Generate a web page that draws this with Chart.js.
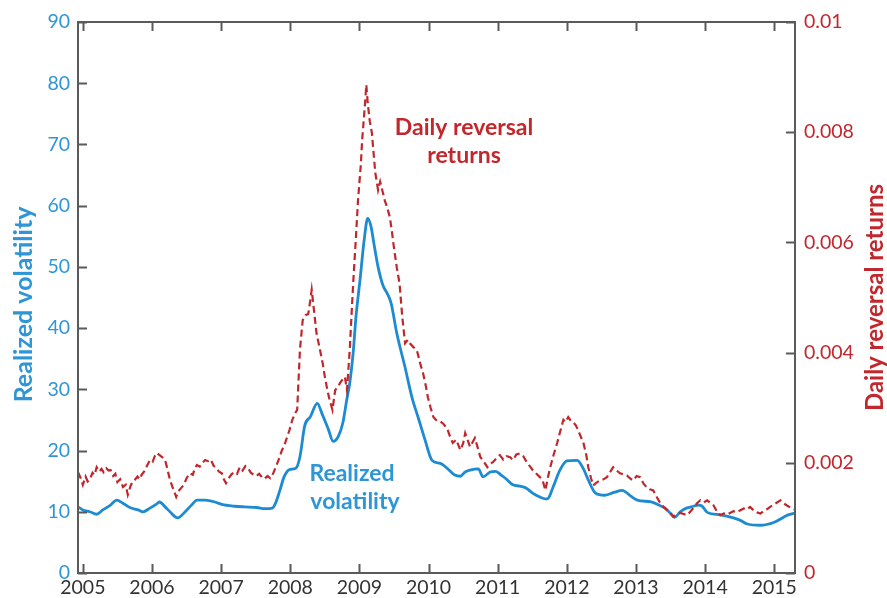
<!DOCTYPE html>
<html>
<head>
<meta charset="utf-8">
<script src="https://cdn.jsdelivr.net/npm/chart.js@4.4.1/dist/chart.umd.min.js"></script>
<style>
  html, body { margin: 0; padding: 0; background: #ffffff; }
  #wrap { width: 887px; height: 598px; }
</style>
</head>
<body>
<div id="wrap"><canvas id="c" width="887" height="598"></canvas></div>
<script>
// Year ticks along the bottom (and mirrored at the top)
const yearTicks = [2005, 2006, 2007, 2008, 2009, 2010, 2011, 2012, 2013, 2014, 2015];
// Left axis ticks (realized volatility)
const volTicks = [0, 10, 20, 30, 40, 50, 60, 70, 80, 90];
// Right axis ticks (daily reversal returns)
const revTicks = [0, 0.002, 0.004, 0.006, 0.008, 0.01];
const revTickLabels = ['0', '0.002', '0.004', '0.006', '0.008', '0.01'];

// Realized volatility: dates (decimal years) and values
const volDates = [
  2004.93, 2005.00, 2005.10, 2005.20, 2005.29, 2005.39, 2005.49, 2005.58, 2005.68, 2005.80,
  2005.87, 2005.97, 2006.07, 2006.11, 2006.19, 2006.26, 2006.37, 2006.48, 2006.58, 2006.65,
  2006.77, 2006.91, 2007.01, 2007.20, 2007.34, 2007.52, 2007.63, 2007.74, 2007.79, 2007.85,
  2007.91, 2007.99, 2008.08, 2008.14, 2008.21, 2008.29, 2008.39, 2008.46, 2008.55, 2008.62,
  2008.69, 2008.76, 2008.82, 2008.86, 2008.91, 2008.95, 2009.01, 2009.07, 2009.12, 2009.17,
  2009.21, 2009.27, 2009.34, 2009.41, 2009.46, 2009.54, 2009.66, 2009.76, 2009.85, 2009.95,
  2010.05, 2010.17, 2010.27, 2010.38, 2010.46, 2010.53, 2010.60, 2010.72, 2010.79, 2010.89,
  2010.97, 2011.05, 2011.12, 2011.22, 2011.32, 2011.41, 2011.51, 2011.61, 2011.69, 2011.73,
  2011.80, 2011.90, 2012.00, 2012.15, 2012.24, 2012.31, 2012.41, 2012.55, 2012.69, 2012.80,
  2012.92, 2013.02, 2013.22, 2013.35, 2013.42, 2013.52, 2013.56, 2013.64, 2013.73, 2013.83,
  2013.90, 2013.95, 2014.03, 2014.22, 2014.41, 2014.51, 2014.61, 2014.80, 2015.00, 2015.20,
  2015.30
];
const volValues = [
  10.8, 10.3, 10.0, 9.6, 10.3, 11.0, 11.9, 11.4, 10.7, 10.3,
  10.0, 10.6, 11.3, 11.6, 10.8, 10.0, 9.0, 10.0, 11.2, 11.9,
  11.9, 11.6, 11.2, 10.9, 10.8, 10.7, 10.5, 10.6, 11.5, 13.5,
  15.7, 16.9, 17.1, 19.0, 24.1, 25.5, 27.7, 26.0, 23.5, 21.5,
  22.2, 24.5, 28.5, 31.0, 36.0, 41.8, 48.0, 54.5, 57.9, 56.5,
  53.8, 50.0, 47.0, 45.5, 44.0, 39.2, 33.6, 28.7, 25.4, 21.7,
  18.4, 17.9, 17.1, 16.0, 15.8, 16.5, 16.8, 17.0, 15.7, 16.5,
  16.6, 16.0, 15.4, 14.4, 14.2, 13.9, 13.0, 12.4, 12.1, 12.2,
  14.0, 16.8, 18.3, 18.4, 17.0, 15.2, 13.1, 12.7, 13.2, 13.5,
  12.6, 11.9, 11.6, 11.0, 10.6, 9.5, 9.1, 10.0, 10.6, 10.9,
  11.1, 11.0, 9.9, 9.5, 9.0, 8.6, 8.0, 7.8, 8.3, 9.5,
  9.8
];

// Daily reversal returns: dates (decimal years) and values in thousandths
const revDates = [
  2004.93, 2004.97, 2005.00, 2005.04, 2005.07, 2005.10, 2005.14, 2005.17, 2005.20, 2005.24,
  2005.27, 2005.30, 2005.34, 2005.37, 2005.40, 2005.44, 2005.47, 2005.50, 2005.54, 2005.58,
  2005.62, 2005.65, 2005.69, 2005.72, 2005.75, 2005.79, 2005.82, 2005.85, 2005.89, 2005.93,
  2005.97, 2006.01, 2006.04, 2006.07, 2006.11, 2006.15, 2006.19, 2006.22, 2006.26, 2006.30,
  2006.35, 2006.38, 2006.42, 2006.46, 2006.50, 2006.55, 2006.59, 2006.62, 2006.65, 2006.69,
  2006.73, 2006.77, 2006.81, 2006.85, 2006.89, 2006.93, 2006.97, 2007.01, 2007.04, 2007.07,
  2007.11, 2007.15, 2007.19, 2007.23, 2007.27, 2007.31, 2007.35, 2007.39, 2007.43, 2007.47,
  2007.51, 2007.55, 2007.59, 2007.63, 2007.67, 2007.71, 2007.75, 2007.79, 2007.83, 2007.88,
  2007.91, 2007.95, 2007.99, 2008.03, 2008.07, 2008.10, 2008.14, 2008.18, 2008.22, 2008.26,
  2008.29, 2008.31, 2008.34, 2008.38, 2008.43, 2008.47, 2008.50, 2008.54, 2008.57, 2008.61,
  2008.65, 2008.69, 2008.72, 2008.76, 2008.79, 2008.82, 2008.86, 2008.91, 2008.95, 2008.98,
  2009.02, 2009.04, 2009.08, 2009.10, 2009.12, 2009.15, 2009.18, 2009.21, 2009.23, 2009.27,
  2009.30, 2009.34, 2009.37, 2009.40, 2009.44, 2009.47, 2009.49, 2009.54, 2009.58, 2009.62,
  2009.66, 2009.70, 2009.73, 2009.78, 2009.83, 2009.88, 2009.92, 2009.96, 2009.99, 2010.03,
  2010.07, 2010.12, 2010.17, 2010.22, 2010.27, 2010.31, 2010.35, 2010.40, 2010.46, 2010.50,
  2010.53, 2010.57, 2010.60, 2010.64, 2010.67, 2010.71, 2010.75, 2010.80, 2010.85, 2010.89,
  2010.93, 2010.98, 2011.03, 2011.08, 2011.13, 2011.18, 2011.22, 2011.27, 2011.32, 2011.37,
  2011.43, 2011.47, 2011.51, 2011.56, 2011.61, 2011.65, 2011.69, 2011.72, 2011.76, 2011.81,
  2011.86, 2011.90, 2011.95, 2011.98, 2012.02, 2012.06, 2012.09, 2012.13, 2012.16, 2012.20,
  2012.24, 2012.28, 2012.31, 2012.35, 2012.38, 2012.43, 2012.48, 2012.53, 2012.58, 2012.62,
  2012.67, 2012.72, 2012.77, 2012.82, 2012.87, 2012.91, 2012.96, 2013.01, 2013.06, 2013.11,
  2013.16, 2013.20, 2013.25, 2013.30, 2013.35, 2013.40, 2013.45, 2013.50, 2013.54, 2013.59,
  2013.64, 2013.69, 2013.74, 2013.79, 2013.83, 2013.88, 2013.93, 2013.98, 2014.03, 2014.08,
  2014.12, 2014.17, 2014.22, 2014.27, 2014.32, 2014.36, 2014.41, 2014.46, 2014.51, 2014.56,
  2014.60, 2014.65, 2014.70, 2014.75, 2014.80, 2014.85, 2014.90, 2014.94, 2014.99, 2015.04,
  2015.09, 2015.14, 2015.19, 2015.23, 2015.27, 2015.30
];
const revPerMille = [
  1.83, 1.72, 1.60, 1.75, 1.66, 1.69, 1.82, 1.78, 1.92, 1.84,
  1.89, 1.83, 1.90, 1.86, 1.87, 1.76, 1.80, 1.65, 1.70, 1.56,
  1.60, 1.42, 1.58, 1.66, 1.69, 1.75, 1.70, 1.78, 1.85, 1.95,
  2.05, 2.02, 2.12, 2.18, 2.14, 2.10, 2.05, 1.90, 1.69, 1.55,
  1.38, 1.48, 1.54, 1.60, 1.72, 1.81, 1.78, 1.90, 1.96, 1.93,
  2.00, 2.05, 2.03, 2.06, 1.95, 1.90, 1.84, 1.81, 1.70, 1.63,
  1.72, 1.79, 1.83, 1.80, 1.92, 1.86, 1.94, 1.90, 1.82, 1.78,
  1.76, 1.80, 1.74, 1.71, 1.76, 1.72, 1.80, 1.92, 2.05, 2.23,
  2.30, 2.45, 2.60, 2.78, 2.90, 2.96, 4.05, 4.59, 4.68, 4.70,
  4.95, 5.14, 4.80, 4.35, 4.05, 3.80, 3.56, 3.30, 3.14, 2.96,
  3.32, 3.38, 3.45, 3.52, 3.56, 3.32, 4.05, 5.26, 6.10, 6.77,
  7.40, 7.86, 8.50, 8.86, 8.53, 8.20, 7.99, 7.55, 7.26, 6.95,
  7.10, 6.90, 6.75, 6.64, 6.46, 6.20, 5.99, 5.55, 5.26, 4.65,
  4.17, 4.23, 4.17, 4.10, 4.05, 3.80, 3.63, 3.40, 3.19, 3.00,
  2.83, 2.76, 2.75, 2.70, 2.62, 2.48, 2.36, 2.42, 2.23, 2.35,
  2.54, 2.40, 2.29, 2.38, 2.45, 2.28, 2.10, 2.02, 1.92, 1.98,
  2.01, 2.08, 2.14, 2.06, 2.12, 2.10, 2.05, 2.15, 2.17, 2.12,
  1.99, 1.93, 1.86, 1.80, 1.74, 1.68, 1.50, 1.70, 1.92, 2.15,
  2.36, 2.55, 2.78, 2.74, 2.83, 2.76, 2.74, 2.68, 2.60, 2.48,
  2.36, 2.15, 1.92, 1.72, 1.59, 1.64, 1.68, 1.70, 1.74, 1.82,
  1.92, 1.86, 1.81, 1.79, 1.77, 1.72, 1.68, 1.76, 1.74, 1.62,
  1.55, 1.52, 1.50, 1.38, 1.27, 1.20, 1.14, 1.08, 1.02, 1.06,
  1.09, 1.07, 1.05, 1.12, 1.18, 1.26, 1.32, 1.28, 1.32, 1.27,
  1.23, 1.12, 1.05, 1.08, 1.06, 1.09, 1.12, 1.10, 1.14, 1.17,
  1.15, 1.20, 1.14, 1.10, 1.08, 1.13, 1.16, 1.20, 1.24, 1.28,
  1.32, 1.26, 1.22, 1.19, 1.17, 1.15
];

const BLUE_LINE = '#1d8bd1';
const BLUE_TEXT = '#2e96d6';
const RED_LINE = '#c0272d';
const RED_TEXT = '#c1272d';
const FRAME = '#5a5a5a';
const FONT = 'Lato, "Open Sans", sans-serif';

const volPoints = volDates.map((d, i) => ({ x: d, y: volValues[i] }));
const revPoints = revDates.map((d, i) => ({ x: d, y: revPerMille[i] / 1000 }));

// Frame, inward tick marks, axis titles and in-plot series labels
const decorations = {
  id: 'decorations',
  afterDatasetsDraw(chart) {
    const { ctx, chartArea: a, scales } = chart;
    const xs = scales.x, yl = scales.y, yr = scales.y2;
    const tick = 9;
    ctx.save();
    ctx.strokeStyle = FRAME;
    ctx.lineWidth = 2;
    ctx.strokeRect(a.left, a.top, a.right - a.left, a.bottom - a.top);
    ctx.beginPath();
    yearTicks.forEach(v => {
      const px = Math.round(xs.getPixelForValue(v)) + 0.5;
      ctx.moveTo(px, a.bottom); ctx.lineTo(px, a.bottom - tick);
      ctx.moveTo(px, a.top); ctx.lineTo(px, a.top + tick);
    });
    volTicks.forEach(v => {
      const py = Math.round(yl.getPixelForValue(v)) + 0.5;
      ctx.moveTo(a.left, py); ctx.lineTo(a.left + tick, py);
    });
    revTicks.forEach(v => {
      const py = Math.round(yr.getPixelForValue(v)) + 0.5;
      ctx.moveTo(a.right, py); ctx.lineTo(a.right - tick, py);
    });
    ctx.stroke();

    // Axis titles, both reading bottom to top
    const midY = (a.top + a.bottom) / 2;
    ctx.textAlign = 'center';
    ctx.textBaseline = 'middle';
    ctx.save();
    ctx.font = 'bold 25px ' + FONT;
    ctx.translate(24, midY + 7);
    ctx.rotate(-Math.PI / 2);
    ctx.fillStyle = BLUE_TEXT;
    ctx.fillText('Realized volatility', 0, 0);
    ctx.restore();
    ctx.save();
    ctx.font = 'bold 24px ' + FONT;
    ctx.translate(875, midY);
    ctx.rotate(-Math.PI / 2);
    ctx.fillStyle = RED_TEXT;
    ctx.fillText('Daily reversal returns', 0, 0);
    ctx.restore();

    // Series labels inside the plot
    ctx.font = 'bold 23px ' + FONT;
    ctx.fillStyle = RED_TEXT;
    ctx.fillText('Daily reversal', 464, 128);
    ctx.fillText('returns', 464, 156);
    ctx.fillStyle = BLUE_TEXT;
    ctx.fillText('Realized', 352, 474);
    ctx.fillText('volatility', 355, 502);
    ctx.restore();
  }
};

new Chart(document.getElementById('c'), {
  type: 'line',
  data: {
    datasets: [
      {
        label: 'Daily reversal returns',
        data: revPoints,
        yAxisID: 'y2',
        borderColor: RED_LINE,
        borderWidth: 2.2,
        borderDash: [7, 4],
        pointRadius: 0,
        tension: 0,
        fill: false
      },
      {
        label: 'Realized volatility',
        data: volPoints,
        yAxisID: 'y',
        borderColor: BLUE_LINE,
        borderWidth: 2.8,
        pointRadius: 0,
        cubicInterpolationMode: 'monotone',
        fill: false
      }
    ]
  },
  options: {
    responsive: false,
    animation: false,
    devicePixelRatio: 1,
    layout: { padding: { top: 22, left: 0, right: 0, bottom: 0 } },
    plugins: { legend: { display: false }, tooltip: { enabled: false }, title: { display: false } },
    scales: {
      x: {
        type: 'linear',
        position: 'bottom',
        min: 2004.93,
        max: 2015.30,
        grid: { display: false, drawTicks: false },
        border: { display: false },
        afterBuildTicks: s => { s.ticks = yearTicks.map(v => ({ value: v })); },
        afterFit: s => { s.height = 25; },
        ticks: {
          padding: 3,
          maxRotation: 0,
          autoSkip: false,
          color: '#333333',
          font: { family: FONT, size: 19.5 },
          callback: v => String(v)
        }
      },
      y: {
        type: 'linear',
        position: 'left',
        min: 0,
        max: 90,
        grid: { display: false, drawTicks: false },
        border: { display: false },
        afterBuildTicks: s => { s.ticks = volTicks.map(v => ({ value: v })); },
        afterFit: s => { s.width = 78; },
        ticks: {
          padding: 8,
          color: BLUE_TEXT,
          font: { family: FONT, size: 19.5 },
          callback: v => String(v)
        }
      },
      y2: {
        type: 'linear',
        position: 'right',
        min: 0,
        max: 0.01,
        grid: { display: false, drawTicks: false },
        border: { display: false },
        afterBuildTicks: s => { s.ticks = revTicks.map(v => ({ value: v })); },
        afterFit: s => { s.width = 92; },
        ticks: {
          padding: 9,
          color: RED_TEXT,
          font: { family: FONT, size: 19.5 },
          callback: (v, i) => revTickLabels[i]
        }
      }
    }
  },
  plugins: [decorations]
});
</script>
</body>
</html>
